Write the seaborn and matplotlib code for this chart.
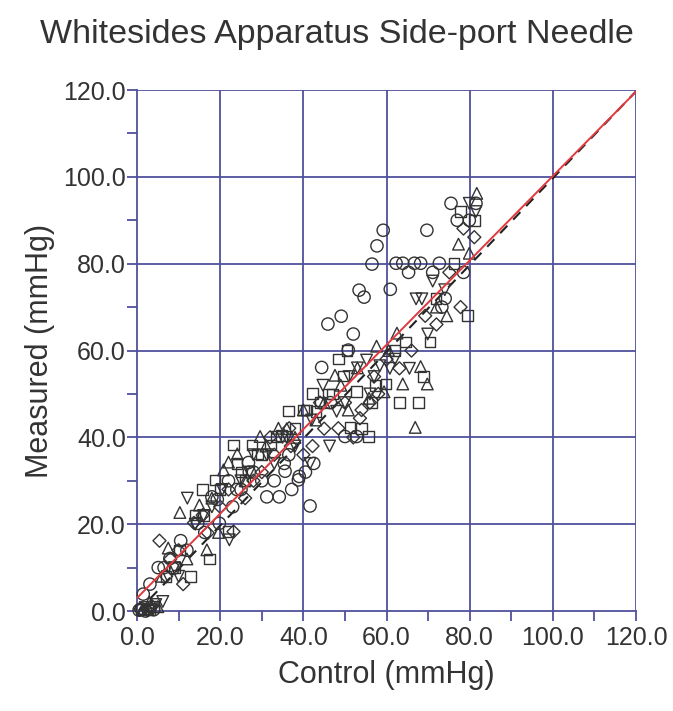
import matplotlib
matplotlib.use("Agg")
import matplotlib.pyplot as plt
import seaborn as sns
import pandas as pd
import numpy as np
from matplotlib.ticker import MultipleLocator, FormatStrFormatter

sns.set_theme(style="white")
plt.rcParams['font.family'] = ['Liberation Sans Narrow', 'Liberation Sans', 'DejaVu Sans']

title = "Whitesides Apparatus Side-port Needle"
x_label = "Control (mmHg)"
y_label = "Measured (mmHg)"

# Circles
circle_x = [0.5, 1.0, 1.5, 2.0, 3.1, 5.1, 7.9, 8.7, 10.5, 12, 14.6, 16.3, 18.0, 19.3, 19.8, 22, 24, 26.8, 28, 30,
            31.2, 34.2, 35.4, 35.6, 37.2, 38.8, 40.5, 41.6, 44.4, 45.9, 49.1, 50.0, 50.8, 52.0, 52.8, 53.4, 54.6,
            56.5, 57.7, 59.2, 60.9, 62.3, 63.9, 65.3, 66.7, 68.2, 69.7, 71.1, 72.7, 73.3, 74.1, 75.5, 77.0, 78.5,
            79.9, 81.5, 4.0, 6.5, 23, 25, 27, 33, 36.5, 39, 42.5, 46.5]
circle_y = [0.2, 0.5, 3.9, 0.0, 6.2, 10.0, 12.1, 9.8, 16.2, 14, 20.2, 18.1, 26.3, 25.7, 20.2, 30, 28, 34.2, 32, 30,
            26.3, 26.3, 34.0, 32.2, 28.0, 30.2, 32, 24.2, 56.1, 66.1, 67.9, 40.2, 60.1, 63.8, 40.2, 73.9, 72.3,
            79.9, 84.1, 87.7, 74.1, 80.1, 80.1, 78.0, 80.1, 80.1, 87.7, 78.0, 80.1, 70.0, 72.0, 93.9, 90.0, 78.0,
            90.0, 93.9, 0.3, 10, 24, 28, 32, 30, 36, 31, 34, 48]

# Squares
square_x = [1.0, 2.5, 4.0, 7.0, 10.2, 12.8, 13.9, 15.8, 17.4, 18.8, 21.9, 23.2, 25, 27.6, 29.0, 32.1, 33.4, 34.7,
            36.4, 40.0, 40.8, 42.2, 44, 46, 48.4, 49.6, 51.2, 52.8, 54.0, 55.6, 57.2, 59.9, 62, 63.1, 64.5, 67.7,
            68.9, 70.5, 71.9, 76.2, 77.8, 79.4, 81.1, 3, 9, 16, 20, 24, 26, 30, 38, 43, 47, 50.5, 56.5]
square_y = [0.3, 0.5, 1.0, 8.0, 14.1, 8.0, 22.1, 28.0, 12.0, 30.2, 18.3, 38.2, 32, 38.2, 36.2, 38.2, 40.2, 40.4,
            46.1, 46.3, 46.3, 50.1, 48, 50, 58.0, 54.1, 42.3, 50.5, 42.1, 40.2, 52.0, 52.3, 60, 48.0, 62.0, 48.0,
            54.0, 62.0, 72.0, 80.1, 92.0, 68.0, 90.0, 0.2, 10, 22, 28, 34, 30, 36, 42, 46, 50, 60, 48]

# Triangles (up)
tri_up_x = [1.5, 3, 6, 7.5, 10.3, 15.0, 16.8, 19.6, 20.8, 22.0, 24.1, 29.6, 34.0, 38, 40.0, 43, 47.6, 50.8, 55.8,
            57.6, 59.4, 60.5, 63.9, 66.9, 68.2, 69.8, 72, 74.5, 77.3, 79.9, 81.7, 5, 12, 18, 26, 31, 36, 45, 49,
            53, 62.5]
tri_up_y = [0.5, 2.0, 8, 14.5, 22.7, 24.4, 14.1, 18.1, 32.5, 34.3, 36.2, 40.2, 42.1, 40, 46.3, 44, 54.3, 46.3, 49.0,
            61.0, 50.5, 60, 52.3, 42.3, 56.3, 52.3, 70, 68.0, 84.5, 82.4, 96.2, 1, 12, 26, 30, 38, 42, 48, 52,
            56, 64]

# Triangles (down)
tri_dn_x = [2, 4.5, 6.2, 9, 12.1, 14, 18, 22.2, 25, 28, 31.2, 35, 38, 41.6, 44.7, 46.3, 50, 53, 55.2, 57, 58.4,
            60.8, 62, 65.5, 67.1, 68.5, 69.9, 71.1, 74, 79.9, 81.5, 3.5, 10, 16, 20.5, 27, 33, 36, 42, 48, 51, 56]
tri_dn_y = [0.8, 1.5, 2.2, 10, 26.0, 20, 24, 16.4, 30, 36, 36.0, 40, 38, 34.0, 52.0, 38.0, 48, 56, 57.8, 54, 56.5,
            55.9, 58, 55.9, 71.9, 71.9, 63.8, 76.0, 74, 93.9, 92.0, 0.3, 8, 22, 28, 32, 34, 40, 44, 46, 54, 50]

# Diamonds
diamond_x = [0.8, 3.5, 5.4, 8, 11.1, 13.7, 15.8, 20, 23.2, 26, 30, 33, 36.6, 40, 42.2, 45, 48.4, 52, 53.6, 54.0, 56,
             58, 60, 63.1, 66, 69.3, 72, 75.1, 77.8, 78.5, 81.1, 2.5, 7, 10, 17, 22, 28, 32, 37, 44, 50, 57]
diamond_y = [0.4, 1.2, 16.2, 12, 6.2, 20.3, 22.1, 24, 18.3, 26, 32, 36, 42.1, 36, 38.0, 42, 42.1, 40, 44.4, 46.3, 48,
             50, 58, 55.9, 60, 68.0, 66, 78.0, 70.0, 88.1, 86.1, 0.2, 8, 14, 18, 28, 30, 40, 38, 48, 48, 54]

# Fit lines
line_x = [0.0, 120.0]
red_intercept, red_slope = 3.0, 0.972
dash_intercept, dash_slope = -0.3, 1.0

series = [
    (circle_x, circle_y, "o", 78),
    (square_x, square_y, "s", 58),
    (tri_up_x, tri_up_y, "^", 70),
    (tri_dn_x, tri_dn_y, "v", 70),
    (diamond_x, diamond_y, "D", 44),
]

fig = plt.figure(figsize=(6.73, 7.11), dpi=100)
ax = fig.add_axes([0.2036, 0.1406, 0.7415, 0.7328])

grid_c = "#50509c"
text_c = "#333333"

for v in range(20, 121, 20):
    ax.axvline(v, color=grid_c, lw=1.3, zorder=1)
    ax.axhline(v, color=grid_c, lw=1.3, zorder=1)

lx = np.array(line_x)
df_dash = pd.DataFrame({"x": lx, "y": dash_intercept + dash_slope * lx})
df_red = pd.DataFrame({"x": lx, "y": red_intercept + red_slope * lx})
sns.lineplot(data=df_dash, x="x", y="y", ax=ax, color="#222222", lw=1.5, linestyle=(0, (5, 4)), zorder=2)

for xs, ys, m, s in series:
    df = pd.DataFrame({"x": xs, "y": ys})
    sns.scatterplot(data=df, x="x", y="y", ax=ax, marker=m, s=s, facecolors="none",
                    edgecolors="#333333", linewidth=1.0, zorder=3, clip_on=False, legend=False)

sns.lineplot(data=df_red, x="x", y="y", ax=ax, color="#e0393e", lw=1.4, zorder=4)

ax.set_xlim(0, 120)
ax.set_ylim(0, 120)
for side in ["top", "right"]:
    ax.spines[side].set_visible(False)
for side in ["left", "bottom"]:
    ax.spines[side].set_color(grid_c)
    ax.spines[side].set_linewidth(1.3)

ax.xaxis.set_major_locator(MultipleLocator(20))
ax.yaxis.set_major_locator(MultipleLocator(20))
ax.xaxis.set_minor_locator(MultipleLocator(10))
ax.yaxis.set_minor_locator(MultipleLocator(10))
ax.xaxis.set_major_formatter(FormatStrFormatter("%.1f"))
ax.yaxis.set_major_formatter(FormatStrFormatter("%.1f"))
ax.tick_params(which="both", direction="out", length=7, width=1.3, color=grid_c,
               bottom=True, left=True, top=False, right=False)
ax.tick_params(which="major", labelsize=18, labelcolor=text_c)
ax.tick_params(axis="x", which="major", pad=4)
ax.tick_params(axis="y", which="major", pad=1)

ax.set_xlabel(x_label, fontsize=22, color=text_c, labelpad=7)
ax.set_ylabel(y_label, fontsize=22, color=text_c, labelpad=6)
fig.text(0.5, 0.952, title, ha="center", va="center", fontsize=24.5, color=text_c)
ax.grid(False)

fig.savefig("out.png", dpi=100)
